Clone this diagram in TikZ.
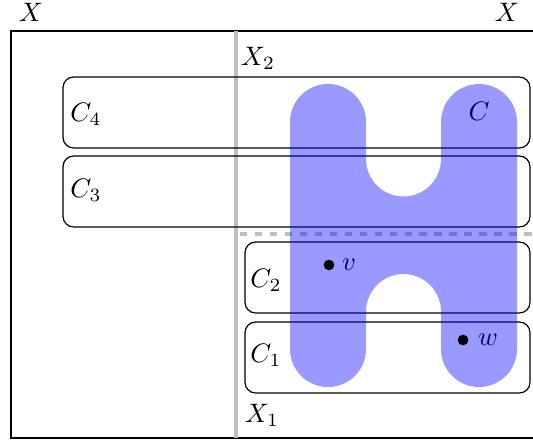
\documentclass[tikz,border=0pt]{standalone}
\begin{document}
\begin{tikzpicture}[x=0.3744pt,y=0.3744pt,
  cbox/.style={draw=black,line width=0.45pt,rounded corners=4pt},
  greyline/.style={draw=black!25,line width=1.6pt},
  lbl/.style={inner sep=0pt},
  blob/.style={fill=blue,fill opacity=0.4,draw=none},
  dotc/.style={fill=black,draw=none}]
\useasboundingbox (0,0) rectangle (533,445);
% outer frame
\draw[line width=0.8pt] (11,414) rectangle (545,7);
% grey separators
\coordinate (gtop) at (236,414);
\coordinate (gbot) at (236,7);
\draw[greyline] (gtop) -- (gbot);
\coordinate (dl) at (240,211);
\coordinate (dr) at (545,211);
\draw[greyline,dash pattern=on 2.8pt off 2.8pt] (dl) -- (dr);
% boxes
\draw[cbox] (63,368) rectangle (530,297);
\draw[cbox] (63,289) rectangle (530,218);
\draw[cbox] (245,203) rectangle (530,132);
\draw[cbox] (245,123) rectangle (530,52);
% labels
\node[lbl] (xl) at (31,433) {$X$};
\node[lbl] (xr) at (507,433) {$X$};
\node[lbl] (x2) at (258,387) {$X_2$};
\node[lbl] (x1) at (262,30) {$X_1$};
\node[lbl] (c4) at (86,331) {$C_4$};
\node[lbl] (c3) at (86,255) {$C_3$};
\node[lbl] (c2) at (266,165) {$C_2$};
\node[lbl] (c1) at (266,90) {$C_1$};
\node[lbl] (c) at (479,334) {$C$};
\node[lbl] (v) at (349,180) {$v$};
\node[lbl] (w) at (488,105) {$w$};
% blue set C
\path[blob] (290,96) -- (290,323) arc[start angle=180,end angle=0,radius=14.23pt]
  -- (366,286) arc[start angle=180,end angle=360,radius=14.04pt]
  -- (441,323) arc[start angle=180,end angle=0,radius=14.23pt]
  -- (517,96) arc[start angle=0,end angle=-180,radius=14.23pt]
  -- (441,133.5) arc[start angle=0,end angle=180,radius=14.04pt]
  -- (366,96) arc[start angle=0,end angle=-180,radius=14.23pt] -- cycle;
% points
\fill[dotc] (329,180) circle[radius=2pt];
\fill[dotc] (463,105) circle[radius=2pt];
\end{tikzpicture}
\end{document}
